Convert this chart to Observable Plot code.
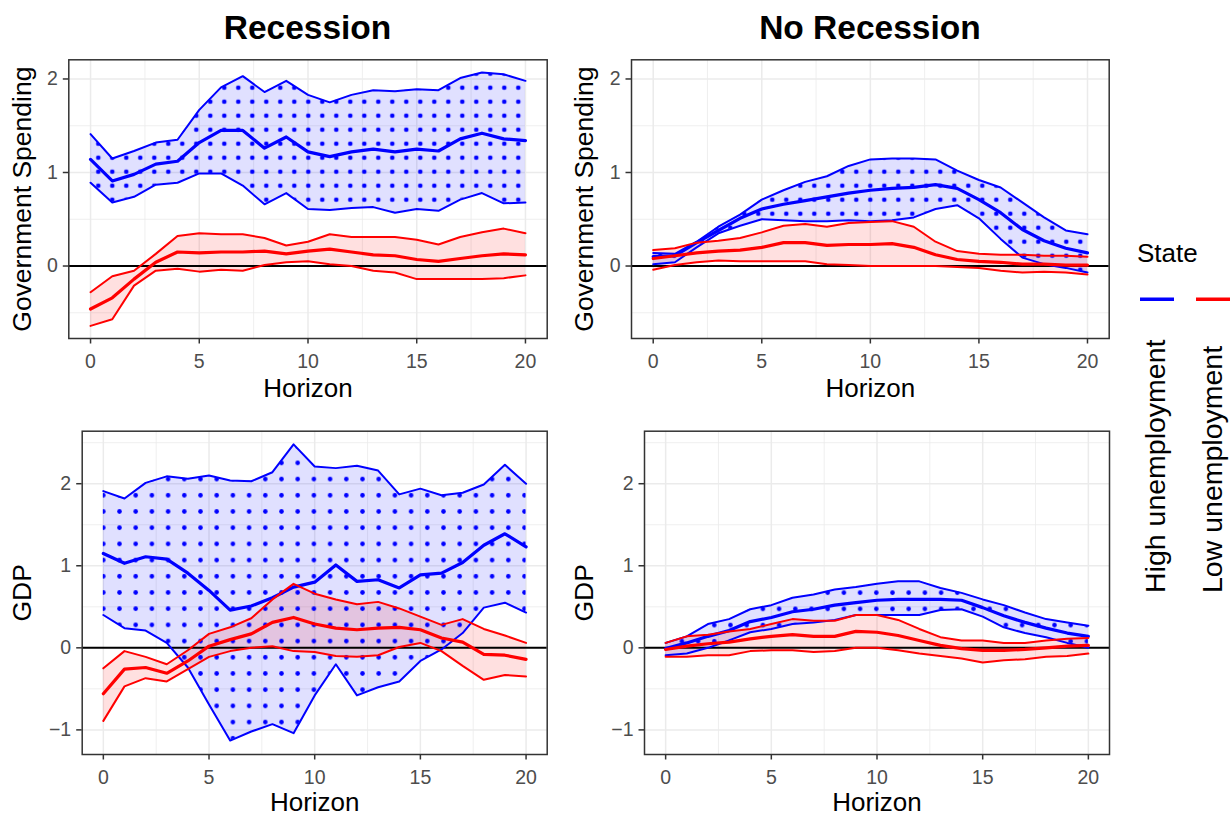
<!DOCTYPE html>
<html>
<head>
<meta charset="utf-8">
<script src="https://cdn.jsdelivr.net/npm/d3@7"></script>
<script src="https://cdn.jsdelivr.net/npm/@observablehq/plot@0.6"></script>
<style>
  html, body { margin: 0; padding: 0; background: #fff; }
  #wrap { position: relative; width: 1232px; height: 817px; background: #fff; overflow: hidden; }
  #wrap > svg, #wrap > figure { position: absolute; margin: 0; }
</style>
</head>
<body>
<div id="wrap"></div>
<script>
// ---------- data ----------
const horizon = [0,1,2,3,4,5,6,7,8,9,10,11,12,13,14,15,16,17,18,19,20];
const xTicks = [0,5,10,15,20];
const xMinor = [2.5,7.5,12.5,17.5];
const colTitles = ["Recession", "No Recession"];
const rowLabels = ["Government Spending", "GDP"];
const xLabel = "Horizon";
const legendTitle = "State";
const stateNames = ["High unemployment", "Low unemployment"];
const stateColors = ["#0000FF", "#FF0000"];

const govTicks = [0,1,2];
const govMinor = [-0.5,0.5,1.5];
const gdpTicks = [-1,0,1,2];
const gdpMinor = [-0.5,0.5,1.5,2.5];

// Recession – Government Spending
const rec_gov_high_hi  = [1.41,1.15,1.23,1.32,1.35,1.67,1.91,2.03,1.86,1.98,1.83,1.75,1.83,1.88,1.87,1.89,1.88,2.01,2.07,2.05,1.98];
const rec_gov_high_mid = [1.14,0.91,0.98,1.09,1.12,1.32,1.45,1.45,1.26,1.38,1.22,1.17,1.22,1.25,1.22,1.25,1.23,1.36,1.42,1.36,1.34];
const rec_gov_high_lo  = [0.89,0.68,0.74,0.87,0.89,0.99,0.99,0.86,0.66,0.78,0.61,0.60,0.62,0.63,0.57,0.61,0.59,0.71,0.78,0.67,0.68];
const rec_gov_low_hi   = [-0.28,-0.11,-0.05,0.13,0.32,0.35,0.34,0.34,0.30,0.22,0.26,0.34,0.31,0.31,0.31,0.28,0.23,0.31,0.36,0.40,0.35];
const rec_gov_low_mid  = [-0.46,-0.34,-0.14,0.04,0.15,0.14,0.15,0.15,0.16,0.13,0.16,0.18,0.15,0.12,0.11,0.07,0.05,0.08,0.11,0.13,0.12];
const rec_gov_low_lo   = [-0.64,-0.57,-0.21,-0.05,-0.03,-0.06,-0.04,-0.05,0.01,0.04,0.05,0.02,0.00,-0.05,-0.07,-0.14,-0.14,-0.14,-0.14,-0.13,-0.10];

// No Recession – Government Spending
const norec_gov_high_hi  = [0.14,0.13,0.26,0.42,0.55,0.71,0.81,0.90,0.96,1.07,1.14,1.15,1.15,1.14,1.02,0.92,0.84,0.68,0.52,0.38,0.34];
const norec_gov_high_mid = [0.10,0.11,0.25,0.38,0.51,0.61,0.66,0.70,0.74,0.78,0.81,0.83,0.84,0.87,0.83,0.71,0.57,0.39,0.27,0.19,0.14];
const norec_gov_high_lo  = [0.02,0.04,0.20,0.35,0.43,0.50,0.49,0.48,0.48,0.49,0.48,0.49,0.52,0.61,0.65,0.51,0.29,0.09,0.02,-0.02,-0.07];
const norec_gov_low_hi   = [0.17,0.19,0.25,0.27,0.30,0.36,0.43,0.45,0.42,0.46,0.47,0.48,0.42,0.26,0.16,0.13,0.12,0.12,0.11,0.11,0.10];
const norec_gov_low_mid  = [0.08,0.11,0.14,0.16,0.17,0.20,0.25,0.25,0.22,0.23,0.23,0.24,0.20,0.12,0.07,0.05,0.04,0.02,0.02,0.01,0.01];
const norec_gov_low_lo   = [-0.04,0.01,0.04,0.06,0.05,0.05,0.05,0.05,0.02,0.01,0.00,0.00,0.00,0.00,-0.01,-0.02,-0.05,-0.07,-0.06,-0.07,-0.09];

// Recession – GDP
const rec_gdp_high_hi  = [1.91,1.82,2.01,2.09,2.06,2.10,2.04,2.03,2.14,2.48,2.21,2.19,2.22,2.16,1.87,1.94,1.86,1.89,1.99,2.23,2.00];
const rec_gdp_high_mid = [1.15,1.03,1.11,1.08,0.91,0.70,0.46,0.51,0.61,0.74,0.80,1.01,0.81,0.83,0.73,0.89,0.91,1.04,1.25,1.39,1.23];
const rec_gdp_high_lo  = [0.40,0.24,0.21,0.06,-0.24,-0.69,-1.13,-1.02,-0.93,-1.04,-0.58,-0.20,-0.58,-0.48,-0.41,-0.16,-0.02,0.18,0.49,0.55,0.43];
const rec_gdp_low_hi   = [-0.25,-0.04,-0.11,-0.20,-0.03,0.17,0.25,0.36,0.59,0.78,0.66,0.59,0.53,0.56,0.48,0.38,0.28,0.35,0.23,0.15,0.06];
const rec_gdp_low_mid  = [-0.56,-0.26,-0.24,-0.31,-0.16,0.02,0.10,0.17,0.31,0.37,0.29,0.24,0.22,0.24,0.25,0.22,0.12,0.07,-0.08,-0.09,-0.14];
const rec_gdp_low_lo   = [-0.89,-0.47,-0.37,-0.41,-0.26,-0.11,-0.04,0.00,0.02,-0.04,-0.05,-0.10,-0.11,-0.09,0.01,0.06,-0.04,-0.22,-0.39,-0.33,-0.35];

// No Recession – GDP
const norec_gdp_high_hi  = [0.06,0.14,0.29,0.35,0.47,0.52,0.61,0.65,0.71,0.74,0.78,0.81,0.81,0.73,0.67,0.59,0.52,0.43,0.35,0.31,0.27];
const norec_gdp_high_mid = [-0.01,0.06,0.14,0.21,0.32,0.37,0.44,0.47,0.52,0.55,0.58,0.59,0.59,0.59,0.58,0.49,0.39,0.31,0.24,0.18,0.14];
const norec_gdp_high_lo  = [-0.09,-0.07,0.00,0.09,0.19,0.23,0.29,0.31,0.34,0.40,0.40,0.40,0.40,0.46,0.47,0.38,0.25,0.18,0.13,0.06,0.00];
const norec_gdp_low_hi   = [0.06,0.14,0.16,0.20,0.23,0.29,0.35,0.33,0.33,0.40,0.40,0.34,0.23,0.13,0.09,0.09,0.06,0.06,0.09,0.11,0.12];
const norec_gdp_low_mid  = [-0.02,0.02,0.05,0.07,0.11,0.14,0.16,0.14,0.14,0.20,0.19,0.15,0.09,0.03,-0.01,-0.03,-0.03,-0.02,0.00,0.02,0.03];
const norec_gdp_low_lo   = [-0.11,-0.11,-0.09,-0.09,-0.04,-0.03,-0.03,-0.05,-0.04,0.00,0.00,-0.03,-0.07,-0.10,-0.13,-0.18,-0.15,-0.14,-0.11,-0.10,-0.07];

// ---------- helpers ----------
const FONT = "'Liberation Sans', Arial, Helvetica, sans-serif";
const rows = (lo, mid, hi) => horizon.map((h, i) => ({h, lo: lo[i], mid: mid[i], hi: hi[i]}));
const wrap = document.getElementById("wrap");
const fmt = d3.format("d");

function panel(cfg) {
  const high = rows(cfg.high[0], cfg.high[1], cfg.high[2]);
  const low = rows(cfg.low[0], cfg.low[1], cfg.low[2]);
  const svg = Plot.plot({
    width: cfg.w, height: cfg.h,
    marginLeft: cfg.ml, marginRight: cfg.mr, marginTop: cfg.mt, marginBottom: cfg.mb,
    x: {domain: [-1, 21]},
    y: {domain: cfg.yDomain},
    style: {fontFamily: FONT, fontSize: "19.5px", background: "transparent", overflow: "visible"},
    marks: [
      Plot.ruleX(xMinor, {stroke: "#EBEBEB", strokeWidth: 0.8}),
      Plot.ruleY(cfg.yMinor, {stroke: "#EBEBEB", strokeWidth: 0.8}),
      Plot.ruleX(xTicks, {stroke: "#EBEBEB", strokeWidth: 1.5}),
      Plot.ruleY(cfg.yTicks, {stroke: "#EBEBEB", strokeWidth: 1.5}),
      Plot.areaY(high, {x: "h", y1: "lo", y2: "hi", fill: stateColors[0], fillOpacity: 0.12}),
      Plot.areaY(low, {x: "h", y1: "lo", y2: "hi", fill: stateColors[1], fillOpacity: 0.12}),
      Plot.areaY(high, {x: "h", y1: "lo", y2: "hi", fill: `url(#${cfg.id})`}),
      Plot.ruleY([0], {stroke: "black", strokeWidth: 2}),
      Plot.lineY(high, {x: "h", y: "hi", stroke: stateColors[0], strokeWidth: 2}),
      Plot.lineY(high, {x: "h", y: "lo", stroke: stateColors[0], strokeWidth: 2}),
      Plot.lineY(high, {x: "h", y: "mid", stroke: stateColors[0], strokeWidth: 3.2}),
      Plot.lineY(low, {x: "h", y: "hi", stroke: stateColors[1], strokeWidth: 2}),
      Plot.lineY(low, {x: "h", y: "lo", stroke: stateColors[1], strokeWidth: 2}),
      Plot.lineY(low, {x: "h", y: "mid", stroke: stateColors[1], strokeWidth: 3.2}),
      Plot.frame({stroke: "#333333", strokeWidth: 1.5}),
      Plot.axisX({ticks: xTicks, tickFormat: fmt, tickSize: 5.5, tickPadding: 9.8, stroke: "#333333", strokeWidth: 1.5, fill: "#4D4D4D", fontSize: 19.5, label: null}),
      Plot.axisY({ticks: cfg.yTicks, tickFormat: fmt, tickSize: 5.5, tickPadding: 5.5, stroke: "#333333", strokeWidth: 1.5, fill: "#4D4D4D", fontSize: 19.5, label: null}),
      Plot.text([xLabel], {text: d => d, frameAnchor: "bottom", textAnchor: "middle", dy: cfg.xLabelDy, lineAnchor: "bottom", fontSize: 26, fill: "black"}),
      Plot.text([cfg.yLabel], {text: d => d, frameAnchor: "left", textAnchor: "middle", dx: cfg.yLabelX - cfg.ml, rotate: -90, lineAnchor: "bottom", fontSize: 26.5, fill: "black"})
    ]
  });
  const s = cfg.dot;
  d3.select(svg).insert("defs", ":first-child").html(
    `<pattern id="${cfg.id}" patternUnits="userSpaceOnUse" x="${cfg.dx - s/2}" y="${cfg.dy - s/2}" width="${s}" height="${s}">` +
    `<circle cx="${s/2}" cy="${s/2}" r="2.3" fill="${stateColors[0]}"/></pattern>`
  );
  svg.style.left = cfg.left + "px";
  svg.style.top = cfg.top + "px";
  wrap.appendChild(svg);
}

const topDomain = [-0.775, 2.205];
const botDomain = [-1.30, 2.64];

panel({id: "p1", left: 0, top: 50, w: 560, h: 360, ml: 68.3, mr: 13.3, mt: 9.3, mb: 72,
  yDomain: topDomain, yTicks: govTicks, yMinor: govMinor, yLabel: rowLabels[0], yLabelX: 30.7, xLabelDy: 58.8,
  high: [rec_gov_high_lo, rec_gov_high_mid, rec_gov_high_hi], low: [rec_gov_low_lo, rec_gov_low_mid, rec_gov_low_hi],
  dot: 14, dx: 98.3, dy: 37.7});
panel({id: "p2", left: 560, top: 50, w: 560, h: 360, ml: 71, mr: 11.3, mt: 9.3, mb: 72,
  yDomain: topDomain, yTicks: govTicks, yMinor: govMinor, yLabel: rowLabels[0], yLabelX: 32.3, xLabelDy: 58.8,
  high: [norec_gov_high_lo, norec_gov_high_mid, norec_gov_high_hi], low: [norec_gov_low_lo, norec_gov_low_mid, norec_gov_low_hi],
  dot: 14, dx: 212.3, dy: 121.7});
panel({id: "p3", left: 0, top: 410, w: 560, h: 407, ml: 81.7, mr: 13.3, mt: 20.7, mb: 63,
  yDomain: botDomain, yTicks: gdpTicks, yMinor: gdpMinor, yLabel: rowLabels[1], yLabelX: 30.7, xLabelDy: 56.5,
  high: [rec_gdp_high_lo, rec_gdp_high_mid, rec_gdp_high_hi], low: [rec_gdp_low_lo, rec_gdp_low_mid, rec_gdp_low_hi],
  dot: 16.2, dx: 103.3, dy: 85.3});
panel({id: "p4", left: 560, top: 410, w: 560, h: 407, ml: 84, mr: 11, mt: 20.7, mb: 63,
  yDomain: botDomain, yTicks: gdpTicks, yMinor: gdpMinor, yLabel: rowLabels[1], yLabelX: 32.3, xLabelDy: 56.5,
  high: [norec_gdp_high_lo, norec_gdp_high_mid, norec_gdp_high_hi], low: [norec_gdp_low_lo, norec_gdp_low_mid, norec_gdp_low_hi],
  dot: 16.2, dx: 267.7, dy: 182.7});

// ---------- titles and legend ----------
const ov = d3.select(wrap).append("svg")
  .attr("width", 1232).attr("height", 817)
  .style("left", "0px").style("top", "0px")
  .style("pointer-events", "none")
  .style("font-family", FONT);

ov.selectAll("text.title").data(colTitles).join("text")
  .attr("class", "title")
  .attr("x", (d, i) => i === 0 ? 307.5 : 869.9)
  .attr("y", 39)
  .attr("text-anchor", "middle")
  .attr("font-weight", "bold")
  .attr("font-size", 33.5)
  .attr("fill", "black")
  .text(d => d);

ov.append("text")
  .attr("x", 1137).attr("y", 262)
  .attr("font-size", 26)
  .attr("fill", "black")
  .text(legendTitle);

const keyX = [1140, 1196];
ov.selectAll("line.key").data(stateNames).join("line")
  .attr("class", "key")
  .attr("x1", (d, i) => keyX[i]).attr("x2", (d, i) => keyX[i] + 34)
  .attr("y1", 299.3).attr("y2", 299.3)
  .attr("stroke", (d, i) => stateColors[i])
  .attr("stroke-width", 3.5);

const labX = [1165.4, 1222];
ov.selectAll("text.lab").data(stateNames).join("text")
  .attr("class", "lab")
  .attr("transform", (d, i) => `translate(${labX[i]},593) rotate(-90)`)
  .attr("font-size", 28.5)
  .attr("fill", "black")
  .text(d => d);
</script>
</body>
</html>
